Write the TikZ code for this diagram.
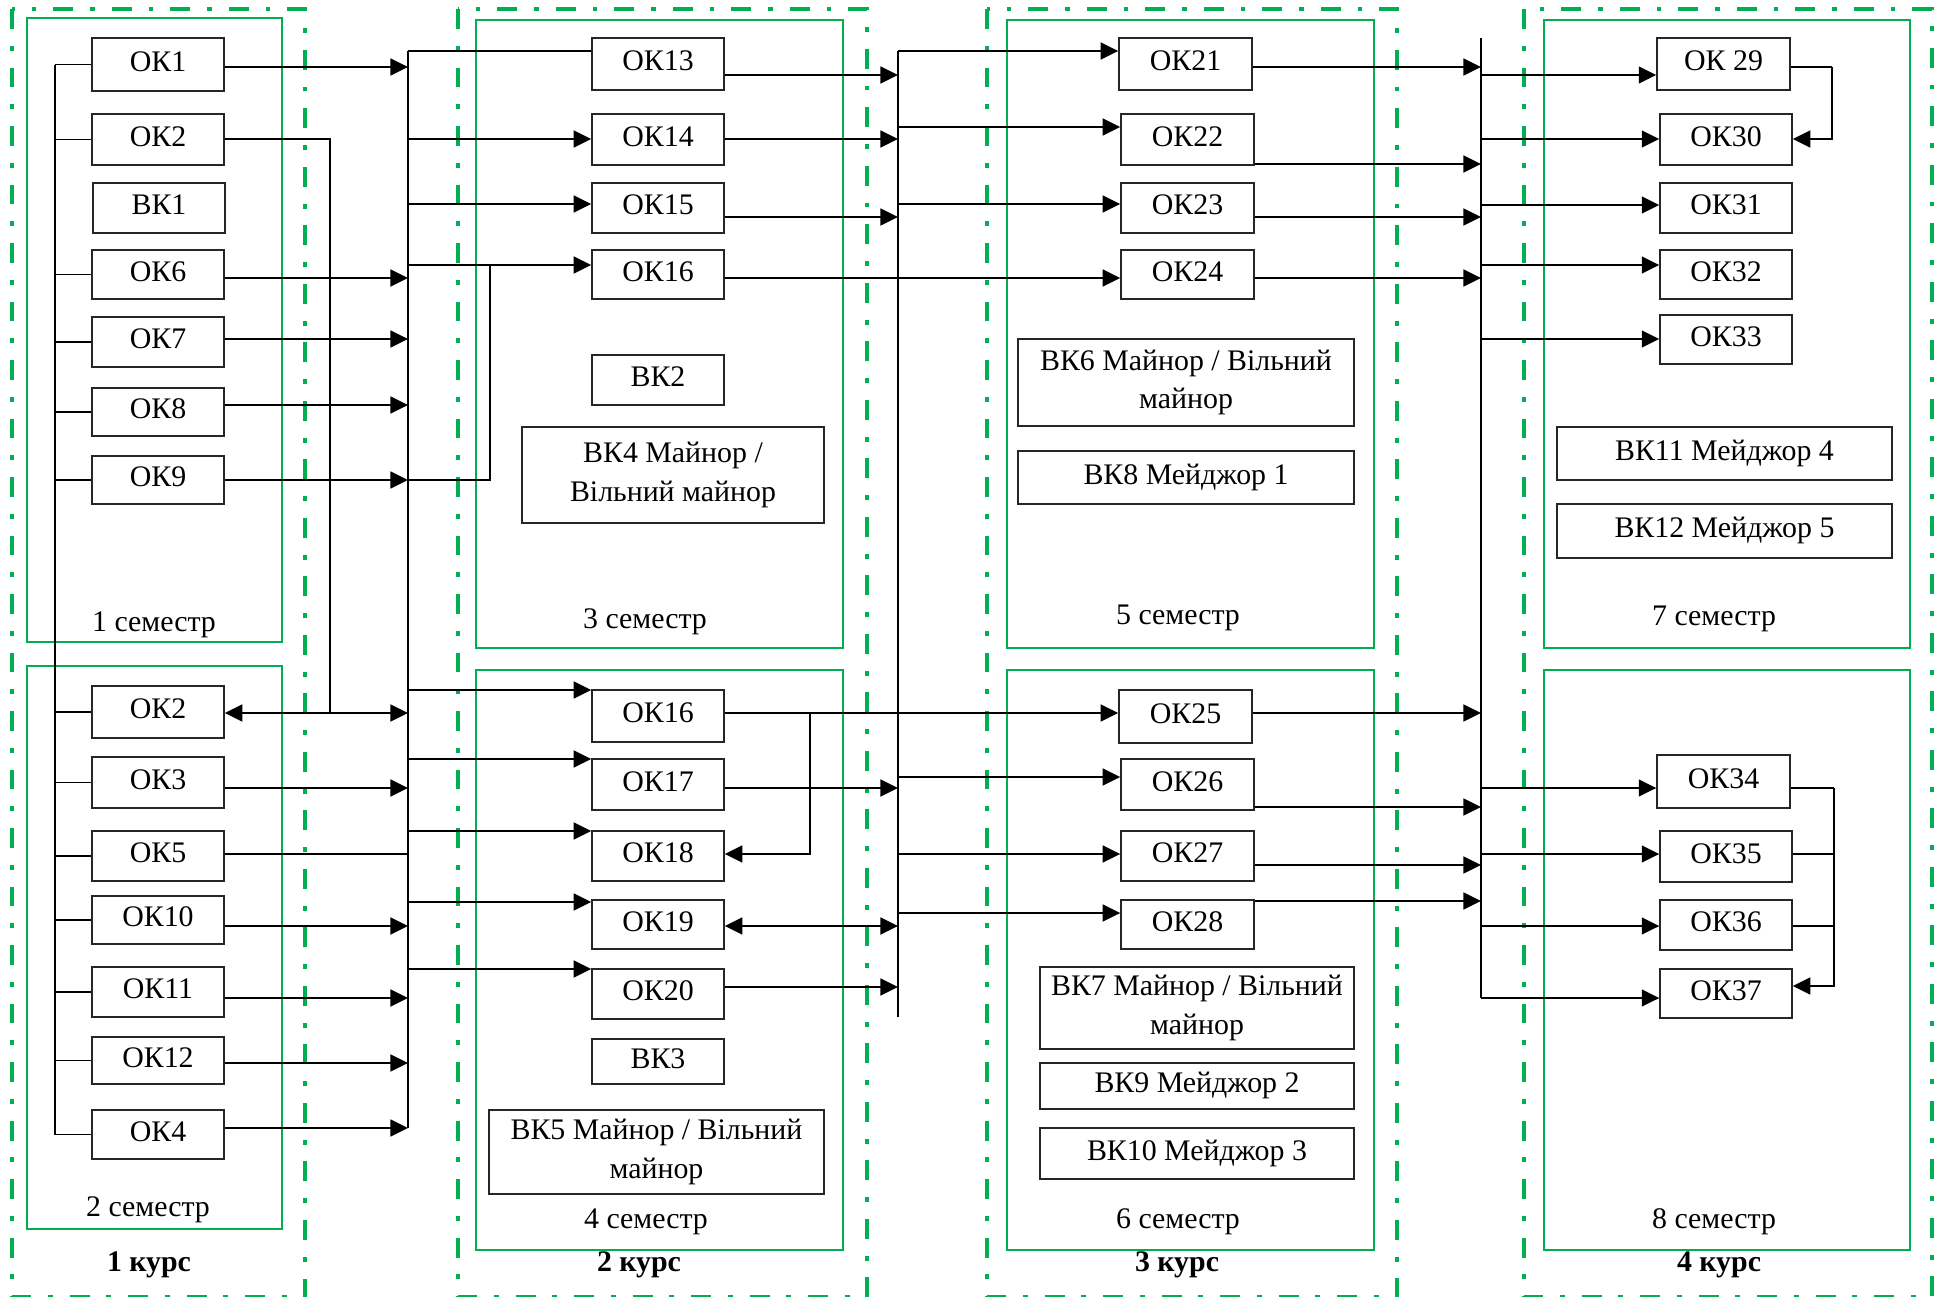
\documentclass[tikz,border=0pt]{standalone}
\usepackage{fontspec}
\setmainfont{Liberation Serif}
\usetikzlibrary{arrows.meta,calc}
\definecolor{grn}{RGB}{0,176,80}
\newcommand\Bx[7][bx1]{\node[#1,minimum width={0.02cm*(#4-#2)},minimum height={0.02cm*(#5-#3)}] (#6) at ({(#2+#4)/2},{(#3+#5)/2}) {#7};}
\begin{document}
\begin{tikzpicture}[x=0.02cm,y=-0.02cm,
  bx/.style={draw=black!85,line width=0.8pt,inner sep=0pt,font=\fontsize{17pt}{22pt}\selectfont,align=center},
  bx1/.style={bx,text height=12pt,text depth=4.6pt},
  lbl/.style={inner sep=0pt,anchor=base,font=\fontsize{17pt}{22pt}\selectfont},
  kurs/.style={lbl,font=\fontsize{17pt}{22pt}\selectfont\bfseries},
  crs/.style={draw=grn,line width=2.6pt,dash pattern=on 11.3pt off 9.6pt on 2.8pt off 9.6pt},
  sem/.style={draw=grn,line width=0.8pt},
  ln/.style={line width=1pt,line join=miter},
  arr/.style={line width=1.4pt,-{Triangle[length=10pt,width=9.5pt]}},
  arr2/.style={line width=1.4pt,{Triangle[length=10pt,width=9.5pt]}-{Triangle[length=10pt,width=9.5pt]}}]
\fill[white] (0,0) rectangle (1942,1296);
\useasboundingbox (0,0) rectangle (1942,1296);

% course frames
\draw[crs] (12,9) rectangle (305,1297);
\draw[crs] (458,9) rectangle (867,1297);
\draw[crs] (987,9) rectangle (1397,1297);
\draw[crs] (1524,9) rectangle (1932,1297);

% semester frames
\draw[sem] (27,18) rectangle (282,642);
\draw[sem] (27,666) rectangle (282,1229);
\draw[sem] (476,20) rectangle (843,648);
\draw[sem] (476,670) rectangle (843,1250);
\draw[sem] (1007,20) rectangle (1374,648);
\draw[sem] (1007,670) rectangle (1374,1250);
\draw[sem] (1544,20) rectangle (1910,648);
\draw[sem] (1544,670) rectangle (1910,1250);

% labels
\node[lbl] (l1) at (154,631) {1 семестр};
\node[lbl] (l2) at (148,1216) {2 семестр};
\node[lbl] (l3) at (645,628) {3 семестр};
\node[lbl] (l4) at (646,1228) {4 семестр};
\node[lbl] (l5) at (1178,624) {5 семестр};
\node[lbl] (l6) at (1178,1228) {6 семестр};
\node[lbl] (l7) at (1714,625) {7 семестр};
\node[lbl] (l8) at (1714,1228) {8 семестр};
\node[kurs] (k1) at (149,1271) {1 курс};
\node[kurs] (k2) at (639,1271) {2 курс};
\node[kurs] (k3) at (1177,1271) {3 курс};
\node[kurs] (k4) at (1719,1271) {4 курс};

% column 1
\Bx{92}{38}{224}{91}{ok1}{ОК1}
\Bx{92}{114}{224}{165}{ok2a}{ОК2}
\Bx{93}{183}{225}{233}{vk1}{ВК1}
\Bx{92}{250}{224}{299}{ok6}{ОК6}
\Bx{92}{317}{224}{367}{ok7}{ОК7}
\Bx{92}{388}{224}{436}{ok8}{ОК8}
\Bx{92}{456}{224}{504}{ok9}{ОК9}
\Bx{92}{686}{224}{738}{ok2b}{ОК2}
\Bx{92}{757}{224}{808}{ok3}{ОК3}
\Bx{92}{831}{224}{881}{ok5}{ОК5}
\Bx{92}{896}{224}{944}{ok10}{ОК10}
\Bx{92}{967}{224}{1017}{ok11}{ОК11}
\Bx{92}{1037}{224}{1084}{ok12}{ОК12}
\Bx{92}{1110}{224}{1159}{ok4}{ОК4}

% column 2
\Bx{592}{38}{724}{90}{ok13}{ОК13}
\Bx{592}{114}{724}{165}{ok14}{ОК14}
\Bx{592}{183}{724}{233}{ok15}{ОК15}
\Bx{592}{250}{724}{299}{ok16a}{ОК16}
\Bx{592}{355}{724}{405}{vk2}{ВК2}
\Bx[bx]{522}{427}{824}{523}{vk4}{ВК4 Майнор /\\Вільний майнор}
\Bx{592}{690}{724}{742}{ok16b}{ОК16}
\Bx{592}{759}{724}{810}{ok17}{ОК17}
\Bx{592}{831}{724}{881}{ok18}{ОК18}
\Bx{592}{900}{724}{949}{ok19}{ОК19}
\Bx{592}{969}{724}{1019}{ok20}{ОК20}
\Bx{592}{1039}{724}{1084}{vk3}{ВК3}
\Bx[bx]{489}{1110}{824}{1194}{vk5}{ВК5 Майнор / Вільний\\майнор}

% column 3
\Bx{1119}{38}{1252}{90}{ok21}{ОК21}
\Bx{1121}{114}{1254}{165}{ok22}{ОК22}
\Bx{1121}{183}{1254}{233}{ok23}{ОК23}
\Bx{1121}{250}{1254}{299}{ok24}{ОК24}
\Bx[bx]{1018}{339}{1354}{426}{vk6}{ВК6 Майнор / Вільний\\майнор}
\Bx{1018}{451}{1354}{504}{vk8}{ВК8 Мейджор 1}
\Bx{1119}{690}{1252}{743}{ok25}{ОК25}
\Bx{1121}{759}{1254}{810}{ok26}{ОК26}
\Bx{1121}{831}{1254}{881}{ok27}{ОК27}
\Bx{1121}{900}{1254}{949}{ok28}{ОК28}
\Bx[bx]{1040}{967}{1354}{1049}{vk7}{ВК7 Майнор / Вільний\\майнор}
\Bx{1040}{1063}{1354}{1109}{vk9}{ВК9 Мейджор 2}
\Bx{1040}{1128}{1354}{1179}{vk10}{ВК10 Мейджор 3}

% column 4
\Bx{1657}{38}{1790}{90}{ok29}{ОК 29}
\Bx{1660}{114}{1792}{165}{ok30}{ОК30}
\Bx{1660}{183}{1792}{233}{ok31}{ОК31}
\Bx{1660}{250}{1792}{299}{ok32}{ОК32}
\Bx{1660}{315}{1792}{364}{ok33}{ОК33}
\Bx{1557}{427}{1892}{480}{vk11}{ВК11 Мейджор 4}
\Bx{1557}{504}{1892}{558}{vk12}{ВК12 Мейджор 5}
\Bx{1657}{755}{1790}{808}{ok34}{ОК34}
\Bx{1660}{831}{1792}{882}{ok35}{ОК35}
\Bx{1660}{900}{1792}{950}{ok36}{ОК36}
\Bx{1660}{969}{1792}{1018}{ok37}{ОК37}

% bus coordinates
\coordinate (bA) at (55,0);
\coordinate (bB) at (408,0);
\coordinate (bC) at (898,0);
\coordinate (bD) at (1481,0);
\coordinate (j2) at (330,713);
\coordinate (j9) at (490,265);
\coordinate (j16) at (810,713);
\coordinate (j29) at (1832,67);
\coordinate (j34) at (1834,788);

% column 1 left bus
\draw[ln] (bA |- ok1.west) -- (bA |- ok4.west);
\foreach \n in {ok1,ok2a,ok6,ok7,ok8,ok9,ok2b,ok3,ok5,ok10,ok11,ok12,ok4}
  \draw[ln] (bA |- \n.west) -- (\n.west);

% bus B
\draw[ln] (bB |- 0,51) -- (bB |- 0,1128);
\foreach \n/\y in {ok1/67,ok6/278,ok7/339,ok8/405,ok9/480,ok3/788,ok10/926,ok11/998,ok12/1063,ok4/1128}
  \draw[arr] (\n.east |- 0,\y) -- (bB |- 0,\y);
\draw[ln] (ok5.east |- 0,854) -- (bB |- 0,854);
\draw[ln] (ok2a.east |- 0,139) -| (j2);
\draw[arr2] (ok2b.east |- 0,713) -- (bB |- 0,713);

% bus B to column 2
\draw[ln] (bB |- 0,51) -- (ok13.west |- 0,51);
\foreach \n/\y in {ok14/139,ok15/204,ok16a/265,ok16b/690,ok17/759,ok18/831,ok19/902,ok20/969}
  \draw[arr] (bB |- 0,\y) -- (\n.west |- 0,\y);
\draw[ln] (bB |- 0,480) -| (j9);

% column 2 to bus C
\draw[ln] (bC |- 0,51) -- (bC |- 0,1017);
\foreach \n/\y in {ok13/75,ok14/139,ok15/217,ok17/788,ok20/987}
  \draw[arr] (\n.east |- 0,\y) -- (bC |- 0,\y);
\draw[arr2] (ok19.east |- 0,926) -- (bC |- 0,926);
\draw[arr] (ok16a.east |- 0,278) -- (ok24.west |- 0,278);
\draw[arr] (ok16b.east |- 0,713) -- (ok25.west |- 0,713);
\draw[arr] (j16) |- (ok18.east |- 0,854);

% bus C to column 3
\foreach \n/\y in {ok21/51,ok22/127,ok23/204,ok26/777,ok27/854,ok28/913}
  \draw[arr] (bC |- 0,\y) -- (\n.west |- 0,\y);

% column 3 to bus D
\draw[ln] (bD |- 0,38) -- (bD |- 0,998);
\foreach \n/\y in {ok21/67,ok22/164,ok23/217,ok24/278,ok25/713,ok26/807,ok27/865,ok28/901}
  \draw[arr] (\n.east |- 0,\y) -- (bD |- 0,\y);

% bus D to column 4
\foreach \n/\y in {ok29/75,ok30/139,ok31/205,ok32/265,ok33/339,ok34/788,ok35/854,ok36/926,ok37/998}
  \draw[arr] (bD |- 0,\y) -- (\n.west |- 0,\y);

% links inside 4th course
\draw[ln] (ok29.east |- 0,67) -- (j29);
\draw[arr] (j29) |- (ok30.east |- 0,139);
\draw[ln] (ok34.east |- 0,788) -- (j34);
\draw[ln] (ok35.east |- 0,854) -- (j34 |- 0,854);
\draw[ln] (ok36.east |- 0,926) -- (j34 |- 0,926);
\draw[arr] (j34) |- (ok37.east |- 0,986);
\end{tikzpicture}
\end{document}
